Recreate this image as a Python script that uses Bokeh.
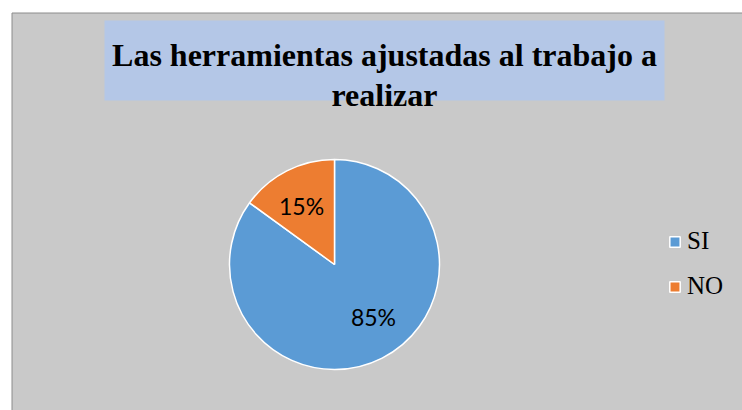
import math
from bokeh.plotting import figure
from bokeh.models import (ColumnDataSource, Range1d, Label, Legend, LegendItem)
from bokeh.core.properties import value
from bokeh.embed import file_html
from bokeh.resources import INLINE

# ---- data ----
title_lines = ["Las herramientas ajustadas al trabajo a", "realizar"]
categories = ["SI", "NO"]
values = [85, 15]
colors = ["#5B9BD5", "#ED7D31"]

W, H = 742, 410
p = figure(width=W, height=H, output_backend="svg", toolbar_location=None,
           x_range=Range1d(0, W), y_range=Range1d(0, H),
           min_border=0, outline_line_color=None,
           background_fill_color="white", border_fill_color="white")
p.axis.visible = False
p.grid.visible = False

# chart area (data y = H - page_y)
p.quad(left=11.5, right=W + 10, top=H - 12.5, bottom=-10,
       fill_color="#C9C9C9", line_color="#8C8C8C", line_width=1)

# title box
p.quad(left=104, right=664, top=H - 20, bottom=H - 100,
       fill_color="#B4C7E7", line_color=None)
title_y = [H - 54, H - 94]
for txt, ty in zip(title_lines, title_y):
    p.text(x=[384], y=[ty], text=[txt], text_align="center",
           text_baseline="alphabetic", text_font=value("Liberation Serif"),
           text_font_style="bold", text_font_size="32px", text_color="black")

# pie
total = sum(values)
cx, cy, R = 334, H - 264, 105
starts, ends, mids = [], [], []
a = math.pi / 2
for v in values:
    sweep = 2 * math.pi * v / total
    starts.append(a)
    ends.append(a - sweep)
    mids.append(a - sweep / 2)
    a -= sweep

src = ColumnDataSource(dict(cat=categories, start=starts, end=ends, color=colors,
                            x=[cx] * len(values), y=[cy] * len(values)))
r = p.wedge(x="x", y="y", radius=R, start_angle="start", end_angle="end",
            direction="clock", fill_color="color", line_color="white",
            line_width=1.5, source=src)

# percentage labels
nudges = [(8, 8), (-2, -2)]
for v, m, (dx, dy) in zip(values, mids, nudges):
    lx = cx + 0.65 * R * math.cos(m) + dx
    ly = cy + 0.65 * R * math.sin(m) + dy
    p.add_layout(Label(x=lx, y=ly, text=f"{v / total * 100:.0f}%",
                       text_align="center", text_baseline="middle",
                       text_font="Lato", text_font_size="23px",
                       text_color="black"))

legend = Legend(items=[LegendItem(label=c, renderers=[r], index=i)
                       for i, c in enumerate(categories)],
                location=(668, 110), orientation="vertical",
                glyph_width=13, glyph_height=13, label_standoff=6,
                label_text_font="Liberation Serif", label_text_font_size="25px",
                label_text_color="black", spacing=17, padding=0, margin=0,
                border_line_color=None, background_fill_alpha=0)
p.add_layout(legend)

open("out.html", "w").write(file_html(p, INLINE))
